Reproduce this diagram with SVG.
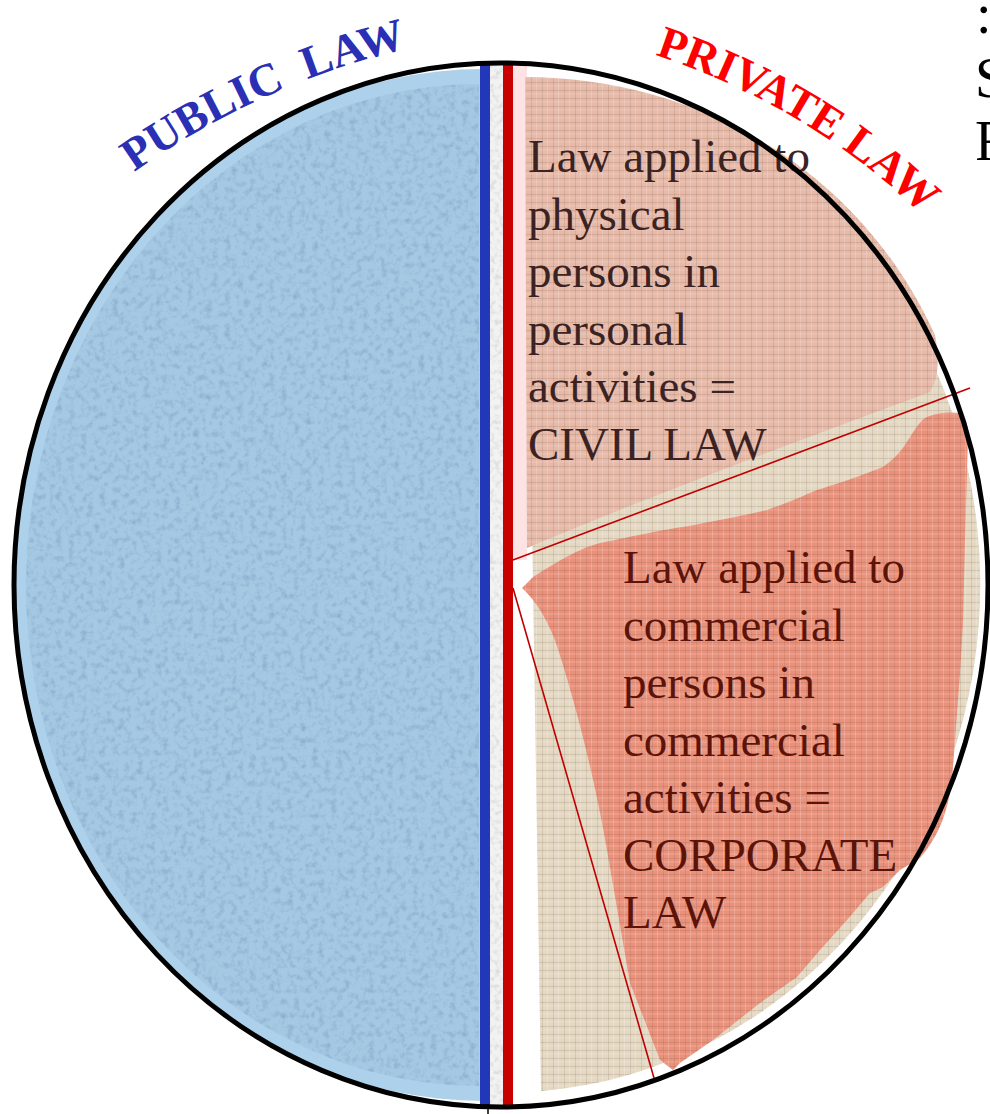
<svg xmlns="http://www.w3.org/2000/svg" width="990" height="1114" viewBox="0 0 990 1114">
  <defs>
    <filter id="speck" x="0" y="0" width="100%" height="100%" color-interpolation-filters="sRGB">
      <feTurbulence type="fractalNoise" baseFrequency="0.16" numOctaves="3" seed="4" result="n"/>
      <feColorMatrix in="n" type="matrix" values="0 0 0 0 0.45  0 0 0 0 0.6  0 0 0 0 0.74  1.2 0 0 0 -0.55" result="s"/>
      <feComposite in="s" in2="SourceGraphic" operator="in" result="s2"/>
      <feMerge><feMergeNode in="SourceGraphic"/><feMergeNode in="s2"/></feMerge>
    </filter>
    <filter id="greyspeck" x="0" y="0" width="100%" height="100%" color-interpolation-filters="sRGB">
      <feTurbulence type="fractalNoise" baseFrequency="0.2" numOctaves="2" seed="7" result="n"/>
      <feColorMatrix in="n" type="matrix" values="0 0 0 0 0.75  0 0 0 0 0.75  0 0 0 0 0.75  1.2 0 0 0 -0.55" result="s"/>
      <feComposite in="s" in2="SourceGraphic" operator="in" result="s2"/>
      <feMerge><feMergeNode in="SourceGraphic"/><feMergeNode in="s2"/></feMerge>
    </filter>
    <pattern id="linen" width="11" height="8" patternUnits="userSpaceOnUse">
      <line x1="0" y1="2.5" x2="11" y2="2.5" stroke="#5a4630" stroke-opacity="0.15" stroke-width="1"/>
      <line x1="0" y1="6" x2="11" y2="6" stroke="#ffffff" stroke-opacity="0.2" stroke-width="1"/>
      <line x1="3.5" y1="0" x2="3.5" y2="8" stroke="#5a4630" stroke-opacity="0.13" stroke-width="1"/>
      <line x1="8.5" y1="0" x2="8.5" y2="8" stroke="#ffffff" stroke-opacity="0.18" stroke-width="1"/>
    </pattern>
    <style>
      .title { font-family: "Liberation Serif", "Times New Roman", serif; font-weight: bold; font-size: 46px; }
      .civil { font-family: "Liberation Serif", "Times New Roman", serif; font-size: 47px; fill: #3b2323; }
      .corp { font-family: "Liberation Serif", "Times New Roman", serif; font-size: 47px; fill: #5c1409; }
      .side { font-family: "Liberation Serif", "Times New Roman", serif; font-size: 56px; fill: #000; }
      .divider { stroke: #c00000; stroke-width: 1.6; fill: none; }
      .tex { fill: url(#linen); }
    </style>
    <path id="arcPublic" d="M 134 172 A 800 800 0 0 1 426 44"/>
    <path id="arcPrivate" d="M 655 55 A 700 700 0 0 1 930 222"/>
  </defs>

  <rect width="990" height="1114" fill="#ffffff"/>

  <!-- Public law half -->
  <g id="public-law">
    <path d="M 484 69 A 471 516 0 0 0 484 1101 Z" fill="#add1eb"/>
    <path d="M 479 84 A 453 501 0 0 0 479 1086 Z" fill="#a6c9e3" filter="url(#speck)"/>
    <rect x="490" y="66" width="13" height="1040" fill="#f2f2f2" filter="url(#greyspeck)"/>
  </g>

  <!-- Private law half -->
  <g id="private-law">
    <path d="M 525 77 L 541 1091 A 476 508 0 0 0 525 77 Z" fill="#e4d8c3"/>
    <path d="M 525 77 L 541 1091 A 476 508 0 0 0 525 77 Z" class="tex"/>
    <rect x="513" y="66" width="14" height="494" fill="#fde3e3"/>
  </g>

  <g id="civil-law">
    <path d="M 525 77 C 700 78 860 170 935 335 C 940 360 938 380 930 392 C 800 440 640 500 527 548 Z" fill="#e6b9a8"/>
    <path d="M 525 77 C 700 78 860 170 935 335 C 940 360 938 380 930 392 C 800 440 640 500 527 548 Z" class="tex"/>
    <text class="civil" x="528" y="172">Law applied to</text>
    <text class="civil" x="528" y="229.5">physical</text>
    <text class="civil" x="528" y="287">persons in</text>
    <text class="civil" x="528" y="344.5">personal</text>
    <text class="civil" x="528" y="402">activities =</text>
    <text class="civil" x="528" y="459.5">CIVIL LAW</text>
  </g>

  <g id="corporate-law">
    <path d="M 522 588 L 533 577 C 560 560 580 548 600 543 C 640 535 660 530 683 527 C 720 520 745 515 767 510 C 790 502 805 495 817 490 C 850 480 870 472 883 467 C 900 455 905 445 910 437 C 918 425 922 419 927 417 C 940 412 950 412 960 413 C 966 418 968 425 968 433 L 967 473 L 965 540 L 963 623 L 960 673 L 955 740 L 952 780 C 948 810 940 835 920 858 L 900 870 L 883 887 L 870 893 L 847 920 L 820 950 L 797 977 L 760 1003 L 713 1040 L 680 1063 L 673 1070 L 660 1060 L 630 983 L 607 850 C 595 780 575 700 555 640 C 545 615 535 600 522 588 Z" fill="#ea917c"/>
    <path d="M 522 588 L 533 577 C 560 560 580 548 600 543 C 640 535 660 530 683 527 C 720 520 745 515 767 510 C 790 502 805 495 817 490 C 850 480 870 472 883 467 C 900 455 905 445 910 437 C 918 425 922 419 927 417 C 940 412 950 412 960 413 C 966 418 968 425 968 433 L 967 473 L 965 540 L 963 623 L 960 673 L 955 740 L 952 780 C 948 810 940 835 920 858 L 900 870 L 883 887 L 870 893 L 847 920 L 820 950 L 797 977 L 760 1003 L 713 1040 L 680 1063 L 673 1070 L 660 1060 L 630 983 L 607 850 C 595 780 575 700 555 640 C 545 615 535 600 522 588 Z" class="tex"/>
    <text class="corp" x="623" y="583">Law applied to</text>
    <text class="corp" x="623" y="640.5">commercial</text>
    <text class="corp" x="623" y="698">persons in</text>
    <text class="corp" x="623" y="755.5">commercial</text>
    <text class="corp" x="623" y="813">activities =</text>
    <text class="corp" x="623" y="870.5">CORPORATE</text>
    <text class="corp" x="623" y="928">LAW</text>
  </g>

  <!-- dividing lines -->
  <g id="connectors">
    <line class="divider" x1="513" y1="560" x2="970" y2="388"/>
    <line class="divider" x1="513" y1="588" x2="654" y2="1078"/>
    <rect x="480" y="64" width="10" height="1044" fill="#2238b8"/>
    <rect x="503" y="64" width="10" height="1044" fill="#c80000"/>
    <line x1="488" y1="1104" x2="488" y2="1114" stroke="#000" stroke-width="1.5"/>
  </g>

  <g id="outline">
    <ellipse cx="501" cy="585" rx="487" ry="522" fill="none" stroke="#000" stroke-width="5"/>
  </g>

  <g id="titles">
    <text class="title" fill="#2a2fb4"><textPath href="#arcPublic">PUBLIC&#160; LAW</textPath></text>
    <text class="title" fill="#ff0000"><textPath href="#arcPrivate">PRIVATE LAW</textPath></text>
  </g>

  <g id="side-text">
    <text class="side" x="976" y="33">:</text>
    <text class="side" x="975" y="97">S</text>
    <text class="side" x="975" y="160">F</text>
  </g>
</svg>
